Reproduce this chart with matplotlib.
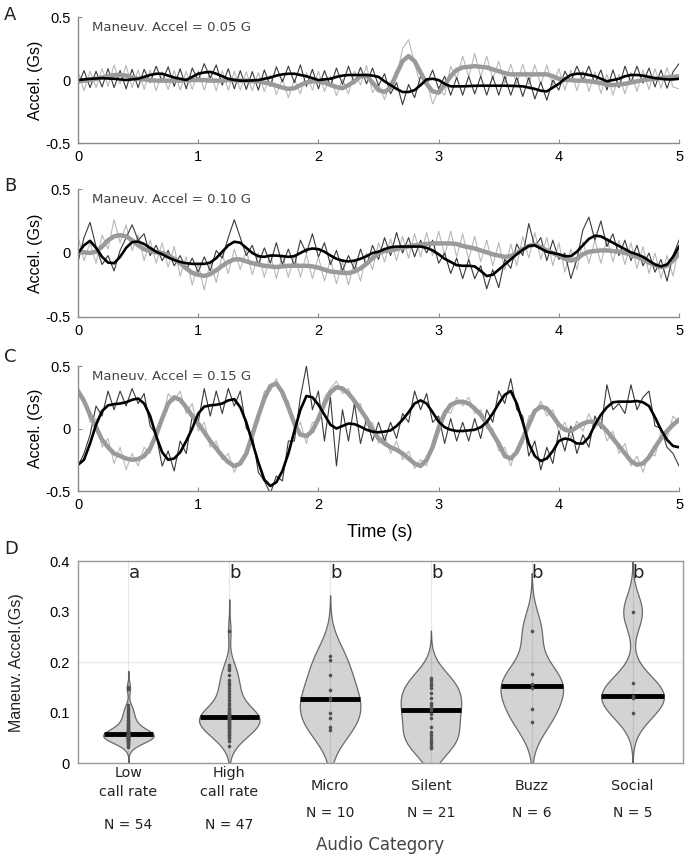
import numpy as np
import matplotlib
matplotlib.use('Agg')
import matplotlib.pyplot as plt
from matplotlib.transforms import blended_transform_factory

# aika-akseli, näyte 0.05 s välein
aika = np.linspace(0, 5, 101)

# paneeli A (0.05 G)
a_musta_raaka = [
    -0.04,0.075,-0.06,0.07,-0.055,0.09,-0.06,0.075,-0.07,0.085,
    -0.06,0.085,-0.02,0.11,-0.01,0.105,-0.05,0.09,-0.07,0.095,
    0.0,0.13,0.015,0.12,-0.04,0.09,-0.07,0.075,-0.075,0.067,
    -0.08,0.08,-0.05,0.105,-0.015,0.11,-0.02,0.12,-0.05,0.085,
    -0.07,0.075,-0.05,0.095,-0.035,0.11,-0.03,0.1,-0.03,0.095,
    -0.045,0.05,-0.11,-0.02,-0.195,-0.035,-0.14,0.03,-0.035,0.08,
    -0.07,0.03,-0.12,0.02,-0.12,0.03,-0.11,0.03,-0.12,0.03,
    -0.12,0.03,-0.12,0.02,-0.13,0.02,-0.15,-0.015,-0.16,0.0,
    -0.08,0.07,-0.01,0.11,0.0,0.11,-0.03,0.08,-0.08,0.08,
    -0.06,0.11,-0.02,0.11,-0.025,0.095,-0.055,0.08,-0.065,0.065,
    0.13]
a_musta_sile = [
    0.0,0.005,0.01,0.012,0.015,0.012,0.01,0.005,0.0,0.005,
    0.01,0.025,0.04,0.05,0.05,0.035,0.02,0.01,0.0,0.025,
    0.05,0.06,0.065,0.05,0.03,0.01,0.0,-0.005,-0.005,-0.003,
    0.0,0.01,0.02,0.035,0.045,0.05,0.05,0.04,0.03,0.015,
    0.0,0.005,0.01,0.025,0.035,0.04,0.04,0.04,0.04,0.035,
    0.025,-0.01,-0.04,-0.07,-0.095,-0.095,-0.08,-0.04,0.005,0.01,
    0.0,-0.03,-0.05,-0.05,-0.05,-0.048,-0.046,-0.045,-0.045,-0.045,
    -0.045,-0.045,-0.046,-0.048,-0.05,-0.06,-0.07,-0.085,-0.09,-0.06,
    -0.03,0.01,0.04,0.05,0.05,0.04,0.03,0.01,-0.01,0.0,
    0.01,0.03,0.04,0.04,0.035,0.025,0.015,0.01,0.005,0.005,
    0.01]
a_harmaa_raaka = [
    0.07,-0.085,0.07,-0.06,0.09,-0.05,0.12,-0.03,0.115,-0.06,
    0.08,-0.075,0.08,-0.085,0.065,-0.075,0.075,-0.08,0.07,-0.075,
    0.075,-0.08,0.07,-0.085,0.075,-0.08,0.07,-0.08,0.065,-0.085,
    0.06,-0.09,0.04,-0.115,0.01,-0.14,0.005,-0.11,0.06,-0.08,
    0.07,-0.09,0.03,-0.125,0.005,-0.11,0.07,-0.04,0.115,-0.1,
    -0.03,-0.155,-0.01,0.02,0.25,0.32,0.13,-0.04,-0.01,-0.19,
    -0.08,-0.12,0.11,0.01,0.19,0.025,0.21,0.025,0.19,0.005,
    0.15,-0.025,0.125,-0.035,0.125,-0.035,0.12,-0.04,0.12,-0.05,
    0.09,-0.08,0.08,-0.085,0.075,-0.09,0.065,-0.105,0.045,-0.12,
    0.045,-0.11,0.06,-0.09,0.08,-0.075,0.09,-0.065,0.1,-0.055,
    -0.07]
a_harmaa_sile = [
    -0.01,-0.005,0.0,0.01,0.02,0.03,0.04,0.04,0.035,0.02,
    0.01,0.005,0.0,-0.005,-0.005,-0.005,-0.005,-0.005,0.0,0.0,
    0.0,0.0,-0.005,-0.005,-0.005,0.0,0.0,-0.005,-0.005,-0.008,
    -0.01,-0.02,-0.03,-0.045,-0.06,-0.07,-0.065,-0.04,-0.02,-0.01,
    -0.01,-0.02,-0.04,-0.055,-0.065,-0.04,-0.01,0.03,0.035,-0.02,
    -0.08,-0.095,-0.06,0.05,0.15,0.19,0.15,0.06,-0.03,-0.09,
    -0.1,-0.04,0.03,0.08,0.1,0.105,0.11,0.105,0.1,0.085,
    0.07,0.055,0.045,0.045,0.045,0.045,0.045,0.045,0.045,0.03,
    0.01,0.0,0.0,-0.005,-0.005,-0.01,-0.015,-0.025,-0.035,-0.04,
    -0.035,-0.03,-0.02,-0.01,0.0,0.005,0.01,0.015,0.02,0.025,
    0.03]

# paneeli B (0.10 G)
b_musta_raaka = [
    -0.07,0.12,0.24,0.05,-0.09,-0.02,-0.14,0.02,0.12,0.22,
    0.1,0.15,-0.02,0.06,-0.06,0.02,-0.1,-0.02,-0.13,-0.04,
    -0.15,-0.03,-0.14,0.02,-0.04,0.12,0.26,0.12,-0.02,0.06,
    -0.09,0.04,-0.08,0.08,-0.09,0.03,-0.1,0.1,0.0,0.15,
    -0.03,0.08,-0.09,0.02,-0.14,-0.02,-0.13,0.03,-0.1,0.06,
    -0.05,0.12,-0.02,0.16,0.0,0.12,-0.03,0.1,0.0,0.1,
    -0.08,0.0,-0.16,-0.04,-0.2,-0.05,-0.2,-0.1,-0.28,-0.13,
    -0.27,-0.05,-0.12,0.07,-0.02,0.23,0.05,0.12,-0.06,0.1,
    -0.05,0.0,-0.2,-0.05,0.18,0.28,0.1,0.25,0.05,0.15,
    -0.02,0.1,-0.06,0.06,-0.1,0.0,-0.15,-0.05,-0.22,-0.02,
    0.1]
b_musta_sile = [
    0.0,0.06,0.095,0.04,-0.03,-0.075,-0.08,-0.03,0.04,0.085,
    0.09,0.07,0.04,0.01,-0.01,-0.035,-0.055,-0.07,-0.08,-0.085,
    -0.085,-0.085,-0.075,-0.04,0.01,0.06,0.088,0.08,0.04,0.0,
    -0.025,-0.03,-0.02,-0.02,-0.025,-0.03,-0.025,0.0,0.025,0.035,
    0.03,0.01,-0.02,-0.045,-0.06,-0.066,-0.06,-0.045,-0.025,0.0,
    0.01,0.03,0.045,0.05,0.05,0.05,0.05,0.05,0.04,0.02,
    -0.01,-0.045,-0.07,-0.095,-0.1,-0.1,-0.105,-0.14,-0.18,-0.17,
    -0.13,-0.09,-0.05,-0.01,0.025,0.055,0.06,0.035,0.01,0.0,
    -0.01,-0.025,-0.025,0.01,0.06,0.11,0.135,0.13,0.105,0.08,
    0.055,0.03,0.005,-0.01,-0.03,-0.06,-0.09,-0.105,-0.09,-0.03,
    0.05]
b_harmaa_raaka = [
    0.13,-0.06,0.08,-0.08,0.14,0.03,0.26,0.08,0.22,0.02,
    0.14,-0.06,0.1,-0.08,0.08,-0.11,0.05,-0.18,-0.03,-0.25,
    -0.08,-0.29,-0.07,-0.23,-0.01,-0.16,0.03,-0.13,0.02,-0.17,
    0.0,-0.19,-0.01,-0.2,-0.01,-0.19,-0.01,-0.19,-0.01,-0.2,
    -0.03,-0.22,-0.05,-0.24,-0.07,-0.25,-0.06,-0.22,0.0,-0.13,
    0.08,-0.07,0.11,-0.06,0.13,-0.04,0.15,-0.03,0.16,-0.02,
    0.17,-0.02,0.17,-0.03,0.15,-0.05,0.13,-0.07,0.1,-0.1,
    0.08,-0.13,0.07,-0.1,0.13,-0.04,0.16,-0.05,0.12,-0.1,
    0.08,-0.15,0.03,-0.13,0.09,-0.08,0.1,-0.08,0.11,-0.07,
    0.1,-0.09,0.08,-0.12,0.05,-0.16,0.0,-0.2,-0.02,-0.18,
    0.06]
b_harmaa_sile = [
    0.01,0.005,0.0,0.01,0.05,0.1,0.13,0.14,0.13,0.1,
    0.06,0.03,0.015,0.005,0.0,-0.02,-0.045,-0.08,-0.12,-0.155,
    -0.17,-0.18,-0.165,-0.135,-0.1,-0.07,-0.05,-0.05,-0.065,-0.08,
    -0.09,-0.1,-0.105,-0.11,-0.105,-0.1,-0.1,-0.1,-0.1,-0.105,
    -0.115,-0.13,-0.145,-0.15,-0.155,-0.157,-0.145,-0.12,-0.085,-0.04,
    0.0,0.015,0.02,0.03,0.045,0.05,0.06,0.065,0.07,0.075,
    0.075,0.075,0.075,0.07,0.055,0.045,0.035,0.02,0.005,-0.01,
    -0.02,-0.03,-0.025,0.0,0.03,0.055,0.065,0.045,0.02,0.0,
    -0.02,-0.045,-0.06,-0.045,-0.01,0.01,0.015,0.02,0.02,0.015,
    0.01,0.0,-0.01,-0.03,-0.05,-0.075,-0.095,-0.11,-0.1,-0.06,
    -0.005]

# paneeli C (0.15 G)
c_musta_raaka = [
    -0.3,-0.2,-0.05,0.18,0.1,0.3,0.15,0.3,0.18,0.32,
    0.2,0.28,0.02,-0.05,-0.3,-0.18,-0.34,-0.1,-0.2,0.1,
    0.05,0.32,0.1,0.3,0.12,0.32,0.18,0.3,0.0,-0.05,
    -0.35,-0.42,-0.52,-0.38,-0.42,-0.1,-0.1,0.25,0.5,0.15,
    0.3,-0.1,0.25,-0.3,0.15,-0.1,0.2,-0.12,0.08,-0.1,
    0.05,-0.1,0.05,-0.08,0.12,0.05,0.3,0.15,0.28,0.05,
    0.1,-0.12,0.08,-0.1,0.05,-0.1,0.08,-0.08,0.15,0.05,
    0.3,0.2,0.4,0.15,0.1,-0.22,-0.1,-0.33,-0.15,-0.28,
    -0.02,-0.18,0.02,-0.2,-0.05,-0.15,0.1,0.0,0.35,0.15,
    0.2,0.12,0.35,0.15,0.25,0.3,0.02,0.0,-0.15,-0.2,
    -0.3]
c_musta_sile = [
    -0.29,-0.25,-0.12,0.03,0.14,0.185,0.195,0.2,0.21,0.23,
    0.24,0.2,0.1,-0.06,-0.19,-0.25,-0.24,-0.19,-0.1,0.0,
    0.12,0.175,0.185,0.19,0.2,0.225,0.235,0.17,0.05,-0.11,
    -0.27,-0.41,-0.46,-0.43,-0.34,-0.2,-0.02,0.15,0.26,0.25,
    0.19,0.11,0.03,0.0,0.02,0.04,0.035,0.015,-0.01,-0.025,
    -0.03,-0.025,-0.015,0.02,0.07,0.13,0.2,0.225,0.2,0.13,
    0.055,0.01,-0.01,-0.02,-0.02,-0.015,-0.01,0.01,0.05,0.12,
    0.2,0.27,0.3,0.2,0.05,-0.12,-0.22,-0.26,-0.24,-0.18,
    -0.1,-0.08,-0.09,-0.12,-0.12,-0.07,0.03,0.11,0.17,0.21,
    0.215,0.215,0.215,0.22,0.21,0.18,0.09,-0.01,-0.09,-0.14,
    -0.15]
c_harmaa_raaka = [
    0.28,0.25,0.05,0.08,-0.15,-0.08,-0.28,-0.15,-0.33,-0.2,
    -0.3,-0.15,-0.2,0.0,0.05,0.28,0.22,0.3,0.12,0.2,
    -0.02,0.05,-0.15,-0.1,-0.25,-0.2,-0.35,-0.25,-0.2,-0.02,
    0.05,0.3,0.3,0.4,0.25,0.22,-0.02,0.05,-0.12,0.05,
    0.05,0.25,0.32,0.38,0.28,0.32,0.18,0.2,0.02,0.05,
    -0.12,-0.05,-0.2,-0.1,-0.25,-0.18,-0.32,-0.25,-0.3,-0.1,
    0.05,0.15,0.12,0.25,0.18,0.25,0.12,0.15,0.0,0.0,
    -0.18,-0.15,-0.3,-0.15,-0.12,0.1,0.12,0.22,0.1,0.15,
    -0.03,0.05,-0.08,0.06,-0.02,0.12,0.0,0.08,-0.1,-0.02,
    -0.2,-0.12,-0.3,-0.22,-0.35,-0.2,-0.22,-0.02,-0.08,0.1,
    0.05]
c_harmaa_sile = [
    0.3,0.22,0.11,0.01,-0.09,-0.15,-0.2,-0.22,-0.24,-0.25,
    -0.245,-0.22,-0.16,-0.05,0.08,0.2,0.25,0.23,0.17,0.1,
    0.04,-0.03,-0.1,-0.16,-0.22,-0.27,-0.3,-0.28,-0.2,-0.05,
    0.1,0.24,0.34,0.36,0.29,0.17,0.04,-0.05,-0.06,-0.02,
    0.08,0.2,0.29,0.33,0.32,0.28,0.22,0.15,0.08,-0.01,
    -0.08,-0.12,-0.15,-0.17,-0.2,-0.24,-0.28,-0.3,-0.25,-0.15,
    0.0,0.12,0.19,0.21,0.215,0.2,0.16,0.11,0.04,-0.04,
    -0.12,-0.22,-0.24,-0.19,-0.08,0.03,0.14,0.175,0.16,0.1,
    0.03,-0.01,-0.02,0.01,0.04,0.055,0.055,0.03,-0.02,-0.08,
    -0.14,-0.2,-0.26,-0.29,-0.28,-0.23,-0.15,-0.08,-0.02,0.03,
    0.07]

tekstit = ['Maneuv. Accel = 0.05 G', 'Maneuv. Accel = 0.10 G', 'Maneuv. Accel = 0.15 G']

# paneeli D
kategoriat = ['Low\ncall rate', 'High\ncall rate', 'Micro', 'Silent', 'Buzz', 'Social']
n_arvot = [54, 47, 10, 21, 6, 5]
ryhmat = ['a', 'b', 'b', 'b', 'b', 'b']
low = [0.033,0.036,0.039,0.041,0.043,0.044,0.045,0.046,0.047,0.048,
       0.049,0.050,0.050,0.051,0.052,0.052,0.053,0.054,0.054,0.055,
       0.055,0.056,0.056,0.057,0.057,0.057,0.057,0.058,0.059,0.060,
       0.061,0.062,0.063,0.064,0.065,0.066,0.068,0.070,0.072,0.074,
       0.076,0.078,0.081,0.084,0.087,0.090,0.094,0.098,0.102,0.106,
       0.110,0.115,0.147,0.152]
high = [0.034,0.045,0.050,0.053,0.056,0.059,0.062,0.065,0.068,0.070,
        0.072,0.074,0.076,0.078,0.080,0.082,0.084,0.086,0.088,0.089,
        0.090,0.091,0.092,0.092,0.093,0.095,0.097,0.099,0.101,0.104,
        0.107,0.110,0.115,0.120,0.126,0.132,0.138,0.144,0.150,0.155,
        0.160,0.165,0.175,0.185,0.190,0.195,0.262]
micro = [0.066,0.073,0.090,0.100,0.125,0.129,0.145,0.175,0.205,0.213]
silent = [0.030,0.035,0.040,0.045,0.050,0.056,0.062,0.072,0.090,0.098,0.105,
          0.110,0.115,0.120,0.130,0.140,0.150,0.155,0.160,0.165,0.170]
buzz = [0.083,0.108,0.150,0.158,0.178,0.263]
social = [0.100,0.130,0.134,0.160,0.300]
aineisto = [low, high, micro, silent, buzz, social]
kaistat = [0.0105, 0.021, 0.04, 0.031, 0.038, 0.034]   # kde-kaistanleveys
leveydet = [0.25, 0.3, 0.3, 0.3, 0.31, 0.31]

plt.rcParams['font.family'] = ['Liberation Sans', 'DejaVu Sans']
harmaa_akseli = '#8c8c8c'

def aikasarja(ax, raaka1, sile1, raaka2, sile2, teksti):
    ax.plot(aika, raaka2, color='#b8b8b8', lw=0.8)
    ax.plot(aika, raaka1, color='#3a3a3a', lw=0.8)
    ax.plot(aika, sile2, color='#9a9a9a', lw=3.2)
    ax.plot(aika, sile1, color='k', lw=1.9)
    ax.set_xlim(0, 5)
    ax.set_ylim(-0.5, 0.5)
    ax.set_yticks([-0.5, 0, 0.5])
    ax.set_yticklabels(['-0.5', '0', '0.5'])
    ax.set_xticks(range(6))
    for s in ['top', 'right']:
        ax.spines[s].set_visible(False)
    for s in ['left', 'bottom']:
        ax.spines[s].set_color(harmaa_akseli)
        ax.spines[s].set_linewidth(1.0)
    ax.tick_params(direction='in', length=3, color=harmaa_akseli, labelsize=10.5, pad=5)
    ax.set_ylabel('Accel. (Gs)', fontsize=11.5)
    ax.yaxis.set_label_coords(-0.058, 0.5)
    ax.text(0.12, 0.42, teksti, fontsize=9.5, color='#444444', family='DejaVu Sans', va='center')

def viulu(ax, x, arvot, bw, lev):
    arvot = np.asarray(arvot)
    y = np.linspace(arvot.min() - 3*bw, arvot.max() + 3*bw, 300)
    d = np.exp(-0.5*((y[:, None] - arvot[None, :])/bw)**2).sum(axis=1)
    d = d / d.max() * lev
    ax.fill_betweenx(y, x - d, x + d, facecolor='#d3d3d3', edgecolor='#6a6a6a', lw=0.9, zorder=2)
    med = np.median(arvot)
    w = np.interp(med, y, d)
    ax.plot([x - w, x + w], [med, med], color='k', lw=3.5, solid_capstyle='butt', zorder=4)
    ax.plot(np.full(len(arvot), x), arvot, 'o', color='#505050', ms=2.6, mew=0, zorder=5)

fig = plt.figure(figsize=(6.85, 8.56), dpi=100)
paikat = [[0.1139, 0.8329, 0.8774, 0.1472],
          [0.1139, 0.6297, 0.8774, 0.1495],
          [0.1139, 0.4264, 0.8774, 0.1460]]
sarjat = [(a_musta_raaka, a_musta_sile, a_harmaa_raaka, a_harmaa_sile),
          (b_musta_raaka, b_musta_sile, b_harmaa_raaka, b_harmaa_sile),
          (c_musta_raaka, c_musta_sile, c_harmaa_raaka, c_harmaa_sile)]
for i in range(3):
    ax = fig.add_axes(paikat[i])
    aikasarja(ax, *sarjat[i], tekstit[i])

fig.text(0.555, 0.3785, 'Time (s)', ha='center', va='center', fontsize=13)

ax = fig.add_axes([0.1139, 0.1081, 0.8832, 0.236])
xs = np.arange(1, 7)
for i in range(6):
    viulu(ax, xs[i], aineisto[i], kaistat[i], leveydet[i])
    ax.axvline(xs[i], color='k', alpha=0.09, lw=0.9, zorder=3)
    ax.text(xs[i], 0.377, ryhmat[i], fontsize=13, family='DejaVu Sans', color='#222222',
            ha='left', va='center', zorder=6)
ax.axhline(0.2, color='k', alpha=0.09, lw=0.9, zorder=3)
ax.set_xlim(0.5, 6.5)
ax.set_ylim(0, 0.4)
ax.set_yticks([0, 0.1, 0.2, 0.3, 0.4])
ax.set_yticklabels(['0', '0.1', '0.2', '0.3', '0.4'])
ax.set_xticks([])
for s in ax.spines.values():
    s.set_color('#9a9a9a')
    s.set_linewidth(1.0)
ax.tick_params(axis='y', length=0, labelsize=10.5, pad=6)
ax.set_ylabel('Maneuv. Accel.(Gs)', fontsize=11.5, color='#222222')
ax.yaxis.set_label_coords(-0.089, 0.5)

sek = blended_transform_factory(ax.transData, ax.transAxes)
for i in range(6):
    kaksi = '\n' in kategoriat[i]
    ax.text(xs[i], -0.0965 if kaksi else -0.111, kategoriat[i], transform=sek, ha='center',
            va='center', fontsize=10.3, family='DejaVu Sans', linespacing=1.45, color='#222222')
    ax.text(xs[i], -0.304 if kaksi else -0.245, 'N = %d' % n_arvot[i], transform=sek,
            ha='center', va='center', fontsize=10, family='DejaVu Sans', color='#222222')

fig.text(0.555, 0.0129, 'Audio Category', ha='center', va='center', fontsize=12,
         family='DejaVu Sans', color='#444444')

for kirjain, y in zip('ABCD', [0.9825, 0.7827, 0.583, 0.3586]):
    fig.text(0.006, y, kirjain, fontsize=13, family='DejaVu Sans', va='center', color='#222222')

fig.savefig('out.png', dpi=100)
